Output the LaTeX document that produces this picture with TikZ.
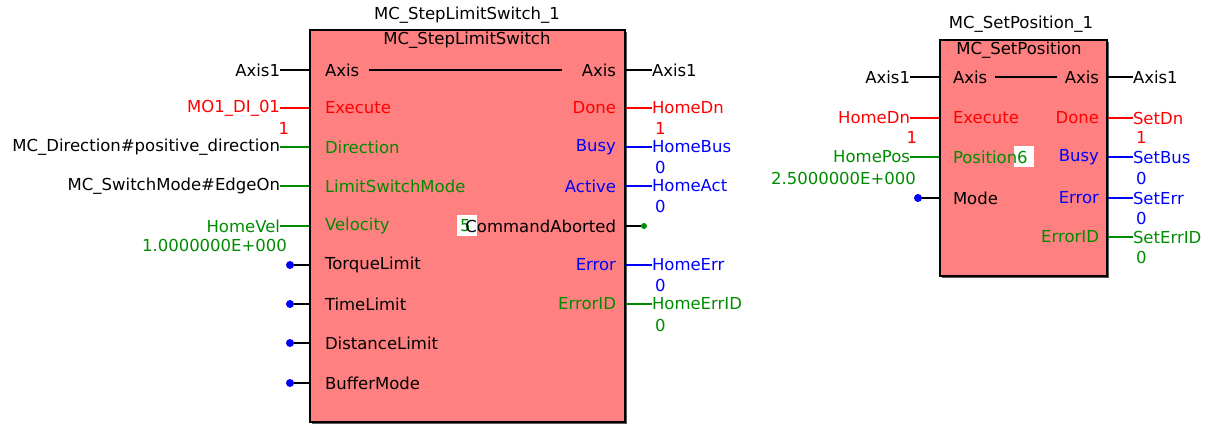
\documentclass[tikz,border=0pt]{standalone}
\usepackage{fontspec}
\setmainfont{DejaVu Sans}
\definecolor{pred}{RGB}{255,0,0}
\definecolor{pgreen}{RGB}{0,140,0}
\definecolor{pblue}{RGB}{0,0,255}
\definecolor{pfill}{RGB}{255,128,128}
\definecolor{pshadow}{RGB}{90,90,90}
\tikzset{
  lbl/.style={inner sep=0pt, outer sep=0pt, font=\fontsize{16.5}{19}\selectfont},
  inl/.style={lbl, anchor=east},
  outl/.style={lbl, anchor=west},
  pinin/.style={lbl, anchor=west},
  pinout/.style={lbl, anchor=east},
  fblock/.style={draw=black, line width=1.6pt, fill=pfill, inner sep=0pt},
  fshadow/.style={fill=pshadow, inner sep=0pt},
  wire/.style={line width=1.2pt},
  bluedot/.style={circle, fill=pblue, inner sep=0pt, minimum size=8pt},
  greendot/.style={circle, fill=pgreen, inner sep=0pt, minimum size=6pt},
  numbox/.style={fill=white, inner sep=0pt, minimum width=20pt, minimum height=21pt}
}
\begin{document}
\begin{tikzpicture}[x=1pt,y=-1pt]
\useasboundingbox (0,0) rectangle (1208,424);
% ===== Block 1 =====
\node[fshadow, minimum width=315pt, minimum height=392pt] (S1) at (469.5,228) {};
\node[fblock, minimum width=315pt, minimum height=392pt] (B1) at (467.5,226) {};
\node[lbl] (T1) at (467,15) {MC\_StepLimitSwitch\_1};
\node[lbl] (N1) at (467,40) {MC\_StepLimitSwitch};
% input pins
\node[pinin] (B1i1) at (325,70) {Axis};
\node[pinin, text=pred] (B1i2) at (325,108) {Execute};
\node[pinin, text=pgreen] (B1i3) at (325,147) {Direction};
\node[pinin, text=pgreen] (B1i4) at (325,186) {LimitSwitchMode};
\node[pinin, text=pgreen] (B1i5) at (325,226) {Velocity};
\node[pinin] (B1i6) at (325,265) {TorqueLimit};
\node[pinin] (B1i7) at (325,304) {TimeLimit};
\node[pinin] (B1i8) at (325,343) {DistanceLimit};
\node[pinin] (B1i9) at (325,383) {BufferMode};
% output pins
\node[pinout] (B1o1) at (616,70) {Axis};
\node[pinout, text=pred] (B1o2) at (616,108) {Done};
\node[pinout, text=pblue] (B1o3) at (616,147) {Busy};
\node[pinout, text=pblue] (B1o4) at (616,186) {Active};
\node[numbox] (X5) at (467,225) {};
\node[lbl, text=pgreen, anchor=west] (X5t) at (460,226) {5};
\node[pinout] (B1o5) at (616,226) {CommandAborted};
\node[pinout, text=pblue] (B1o6) at (616,265) {Error};
\node[pinout, text=pgreen] (B1o7) at (616,304) {ErrorID};
\draw[wire] ([xshift=10pt]B1i1.east) -- ([xshift=-20pt]B1o1.west);
% inputs
\node[inl] (L1) at (280,70) {Axis1};
\node[inl, text=pred] (L2) at (280,108) {MO1\_DI\_01};
\node[inl] (L3) at (280,147) {MC\_Direction\#positive\_direction};
\node[inl] (L4) at (280,186) {MC\_SwitchMode\#EdgeOn};
\node[inl, text=pgreen] (L5) at (280,226) {HomeVel};
\node[inl, text=pred] (V2) at (289,128) {1};
\node[inl, text=pgreen] (V5) at (287,245) {1.0000000E+000};
\draw[wire] (L1.east) -- (L1.east -| B1.west);
\draw[wire, pred] (L2.east) -- (L2.east -| B1.west);
\draw[wire, pgreen] (L3.east) -- (L3.east -| B1.west);
\draw[wire, pgreen] (L4.east) -- (L4.east -| B1.west);
\draw[wire, pgreen] (L5.east) -- (L5.east -| B1.west);
\node[bluedot] (D6) at (290,265) {};
\node[bluedot] (D7) at (290,304) {};
\node[bluedot] (D8) at (290,343) {};
\node[bluedot] (D9) at (290,383) {};
\foreach \d in {D6,D7,D8,D9} \draw[wire] (\d) -- (\d -| B1.west);
% outputs
\node[outl] (R1) at (652,70) {Axis1};
\node[outl, text=pred] (R2) at (652,108) {HomeDn};
\node[outl, text=pblue] (R3) at (652,147) {HomeBus};
\node[outl, text=pblue] (R4) at (652,186) {HomeAct};
\node[outl, text=pblue] (R6) at (652,265) {HomeErr};
\node[outl, text=pgreen] (R7) at (652,304) {HomeErrID};
\draw[wire] (R1.west) -- (R1.west -| B1.east);
\draw[wire, pred] (R2.west) -- (R2.west -| B1.east);
\draw[wire, pblue] (R3.west) -- (R3.west -| B1.east);
\draw[wire, pblue] (R4.west) -- (R4.west -| B1.east);
\draw[wire, pblue] (R6.west) -- (R6.west -| B1.east);
\draw[wire, pgreen] (R7.west) -- (R7.west -| B1.east);
\node[greendot] (G5) at (644,226) {};
\draw[wire] (G5) -- (G5 -| B1.east);
\node[outl, text=pred] (W2) at (655,128) {1};
\node[outl, text=pblue] (W3) at (655,167) {0};
\node[outl, text=pblue] (W4) at (655,206) {0};
\node[outl, text=pblue] (W6) at (655,285) {0};
\node[outl, text=pgreen] (W7) at (655,325) {0};
% ===== Block 2 =====
\node[fshadow, minimum width=167pt, minimum height=236pt] (S2) at (1025.5,160) {};
\node[fblock, minimum width=167pt, minimum height=236pt] (B2) at (1023.5,158) {};
\node[lbl] (T2) at (1021,24) {MC\_SetPosition\_1};
\node[lbl] (N2) at (1019,50) {MC\_SetPosition};
\node[pinin] (B2i1) at (953,77) {Axis};
\node[pinin, text=pred] (B2i2) at (953,118) {Execute};
\node[numbox] (X6) at (1024,156) {};
\node[lbl, text=pgreen, anchor=west] (X6t) at (1017,157) {6};
\node[pinin, text=pgreen] (B2i3) at (953,157) {Position};
\node[pinin] (B2i4) at (953,198) {Mode};
\node[pinout] (B2o1) at (1099,77) {Axis};
\node[pinout, text=pred] (B2o2) at (1099,118) {Done};
\node[pinout, text=pblue] (B2o3) at (1099,157) {Busy};
\node[pinout, text=pblue] (B2o4) at (1099,198) {Error};
\node[pinout, text=pgreen] (B2o5) at (1099,237) {ErrorID};
\draw[wire] ([xshift=8pt]B2i1.east) -- ([xshift=-8pt]B2o1.west);
% inputs
\node[inl] (P1) at (910,77) {Axis1};
\node[inl, text=pred] (P2) at (910,118) {HomeDn};
\node[inl, text=pgreen] (P3) at (910,157) {HomePos};
\node[inl, text=pred] (PV2) at (917,137) {1};
\node[inl, text=pgreen] (PV3) at (916,178) {2.5000000E+000};
\draw[wire] (P1.east) -- (P1.east -| B2.west);
\draw[wire, pred] (P2.east) -- (P2.east -| B2.west);
\draw[wire, pgreen] (P3.east) -- (P3.east -| B2.west);
\node[bluedot] (D24) at (918,198) {};
\draw[wire] (D24) -- (D24 -| B2.west);
% outputs
\node[outl] (Q1) at (1133,77) {Axis1};
\node[outl, text=pred] (Q2) at (1133,118) {SetDn};
\node[outl, text=pblue] (Q3) at (1133,157) {SetBus};
\node[outl, text=pblue] (Q4) at (1133,198) {SetErr};
\node[outl, text=pgreen] (Q5) at (1133,237) {SetErrID};
\draw[wire] (Q1.west) -- (Q1.west -| B2.east);
\draw[wire, pred] (Q2.west) -- (Q2.west -| B2.east);
\draw[wire, pblue] (Q3.west) -- (Q3.west -| B2.east);
\draw[wire, pblue] (Q4.west) -- (Q4.west -| B2.east);
\draw[wire, pgreen] (Q5.west) -- (Q5.west -| B2.east);
\node[outl, text=pred] (QV2) at (1136,137) {1};
\node[outl, text=pblue] (QV3) at (1136,178) {0};
\node[outl, text=pblue] (QV4) at (1136,218) {0};
\node[outl, text=pgreen] (QV5) at (1136,257) {0};
\end{tikzpicture}
\end{document}
